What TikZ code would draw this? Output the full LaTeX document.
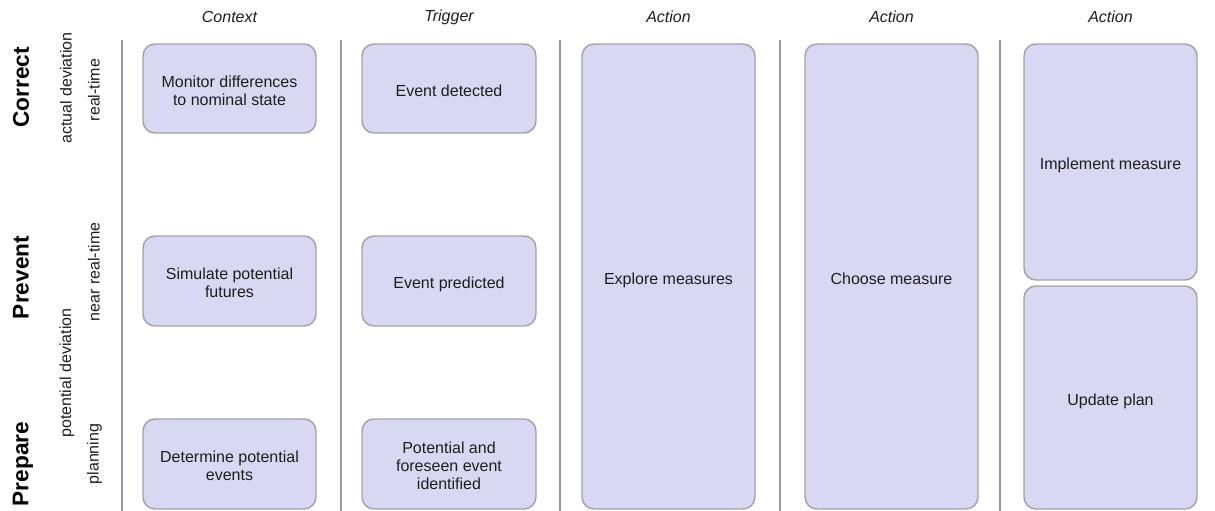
\documentclass[tikz,border=0pt]{standalone}
\usepackage{fontspec}
\setmainfont{Liberation Sans}
\begin{document}
\definecolor{boxfill}{HTML}{D8D8F3}
\definecolor{boxline}{HTML}{A2A2AA}
\definecolor{sepline}{HTML}{9A9A9A}
\definecolor{ink}{HTML}{1E1E1E}
\tikzset{
  boxtext/.style={align=center, text=ink, font=\fontsize{12}{13.5}\selectfont,
    inner sep=0pt, text depth=0pt, yshift=-1.5pt},
  stepbox/.style={draw=boxline, fill=boxfill, line width=1.1pt, rounded corners=9pt,
    inner sep=0pt, label={[boxtext]center:{#1}}},
  colhead/.style={font=\fontsize{12}{14}\selectfont\itshape, text=ink},
  phase/.style={rotate=90, font=\fontsize{17}{19}\selectfont\bfseries, text=black},
  sublabel/.style={rotate=90, font=\fontsize{12}{14}\selectfont, text=ink},
  sep/.style={draw=sepline, line width=1.5pt}
}
\begin{tikzpicture}[x=0.75pt, y=-0.75pt]
  \useasboundingbox (0,0) rectangle (1215,511);

  % column headers
  \node[colhead] (hctx) at (229.5,17) {Context};
  \node[colhead] (htrg) at (449,17) {Trigger};
  \node[colhead] (hac1) at (668.5,17) {Action};
  \node[colhead] (hac2) at (891.5,17) {Action};
  \node[colhead] (hac3) at (1110.5,17) {Action};

  % column separators
  \foreach \n/\x in {s1/122, s2/341, s3/560, s4/780, s5/1000} {
    \coordinate (\n t) at (\x,40);
    \coordinate (\n b) at (\x,511);
    \draw[sep] (\n t) -- (\n b);
  }

  % row labels
  \node[phase] (correct) at (21,87.5) {Correct};
  \node[phase] (prevent) at (21,277.5) {Prevent};
  \node[phase] (prepare) at (23,464) {Prepare};
  \node[sublabel] (actual) at (66,88) {actual deviation};
  \node[sublabel] (potential) at (67,373) {potential deviation};
  \node[sublabel] (rt) at (94,90) {real-time};
  \node[sublabel] (nrt) at (94,272) {near real-time};
  \node[sublabel] (plan) at (94.5,454) {planning};

  % context column
  \node[stepbox={Monitor differences\\to nominal state},
        minimum width=129.75pt, minimum height=66.75pt] (monitor) at (229.5,88.5) {};
  \node[stepbox={Simulate potential\\futures},
        minimum width=129.75pt, minimum height=67.5pt] (simulate) at (229.5,281) {};
  \node[stepbox={Determine potential\\events},
        minimum width=129.75pt, minimum height=67.5pt] (determine) at (229.5,464) {};

  % trigger column
  \node[stepbox={Event detected},
        minimum width=130.5pt, minimum height=66.75pt] (detected) at (449,88.5) {};
  \node[stepbox={Event predicted},
        minimum width=130.5pt, minimum height=67.5pt] (predicted) at (449,281) {};
  \node[stepbox={Potential and\\foreseen event\\identified},
        minimum width=130.5pt, minimum height=67.5pt] (identified) at (449,464) {};

  % action columns
  \node[stepbox={Explore measures},
        minimum width=129.75pt, minimum height=348.75pt] (explore) at (668.5,276.5) {};
  \node[stepbox={Choose measure},
        minimum width=129.75pt, minimum height=348.75pt] (choose) at (891.5,276.5) {};
  \node[stepbox={Implement measure},
        minimum width=129.75pt, minimum height=177pt] (implement) at (1110.5,162) {};
  \node[stepbox={Update plan},
        minimum width=129.75pt, minimum height=167.25pt] (update) at (1110.5,397.5) {};
\end{tikzpicture}
\end{document}
